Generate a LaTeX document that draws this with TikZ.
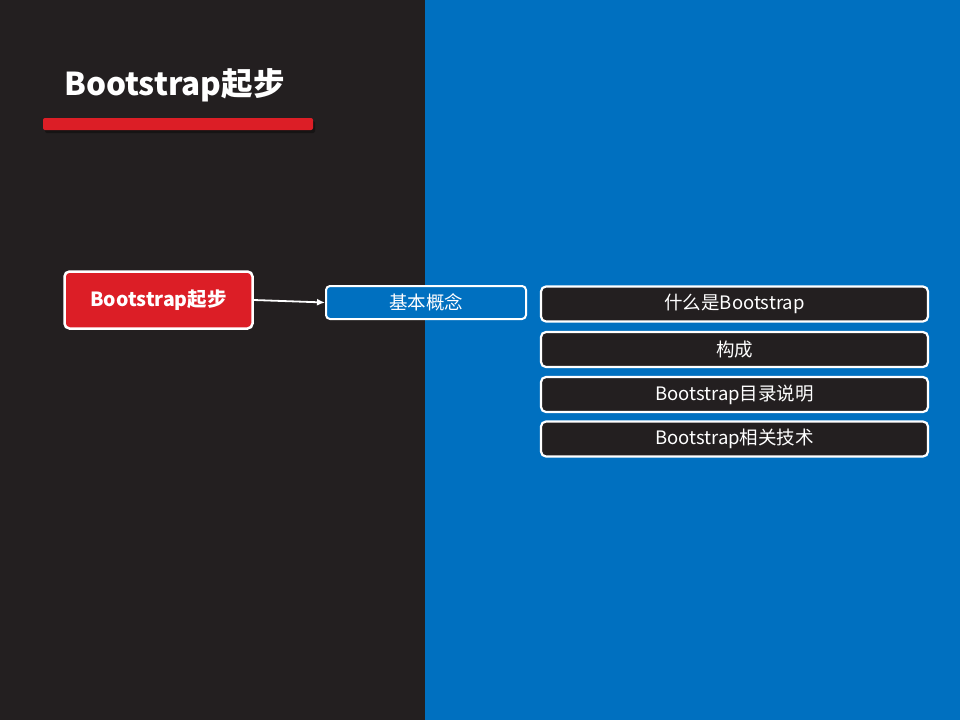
\documentclass[tikz,border=0pt]{standalone}
\usepackage{fontspec}
\setmainfont{Noto Sans CJK SC}
\usetikzlibrary{arrows.meta}
\definecolor{darkbg}{HTML}{231F20}
\definecolor{bluebg}{HTML}{0070C0}
\definecolor{redc}{HTML}{DC1E26}
\tikzset{
  rootbox/.style={draw=white, line width=2.5pt, fill=redc, rounded corners=5pt, text=white, font=\bfseries\fontsize{19.5}{22}\selectfont, minimum width=188pt, minimum height=57pt, inner sep=0pt},
  midbox/.style={draw=white, line width=2pt, fill=bluebg, rounded corners=4pt, text=white, font=\fontsize{18.5}{21}\selectfont, minimum width=200pt, minimum height=33pt, inner sep=0pt},
  leafbox/.style={draw=white, line width=2.2pt, fill=darkbg, rounded corners=5pt, text=white, font=\fontsize{18.5}{21}\selectfont, minimum width=387pt, minimum height=35pt, inner sep=0pt},
  conn/.style={draw=white, line width=1.8pt, -{Latex[length=8pt,width=7pt]}}
}
\begin{document}
\begin{tikzpicture}[x=1pt,y=-1pt]
\useasboundingbox (0,0) rectangle (960,720);
\fill[darkbg] (0,0) rectangle (425,720);
\fill[bluebg] (425,0) rectangle (960,720);
\node[anchor=base west, text=white, font=\bfseries\fontsize{31.5}{36}\selectfont, inner sep=0pt] (title) at (64,95) {Bootstrap起步};
\fill[black, opacity=0.35, rounded corners=2pt] (45,121) rectangle (315,133);
\fill[redc, rounded corners=2pt] (43,118) rectangle (313,130);
\node[rootbox] (root) at (158.5,300) {Bootstrap起步};
\node[midbox] (mid) at (426,302.5) {基本概念};
\node[leafbox] (l1) at (734.5,304) {什么是Bootstrap};
\node[leafbox] (l2) at (734.5,349.5) {构成};
\node[leafbox] (l3) at (734.5,394.5) {Bootstrap目录说明};
\node[leafbox] (l4) at (734.5,439) {Bootstrap相关技术};
\draw[conn] (root.east) -- (mid.west);
\end{tikzpicture}
\end{document}
